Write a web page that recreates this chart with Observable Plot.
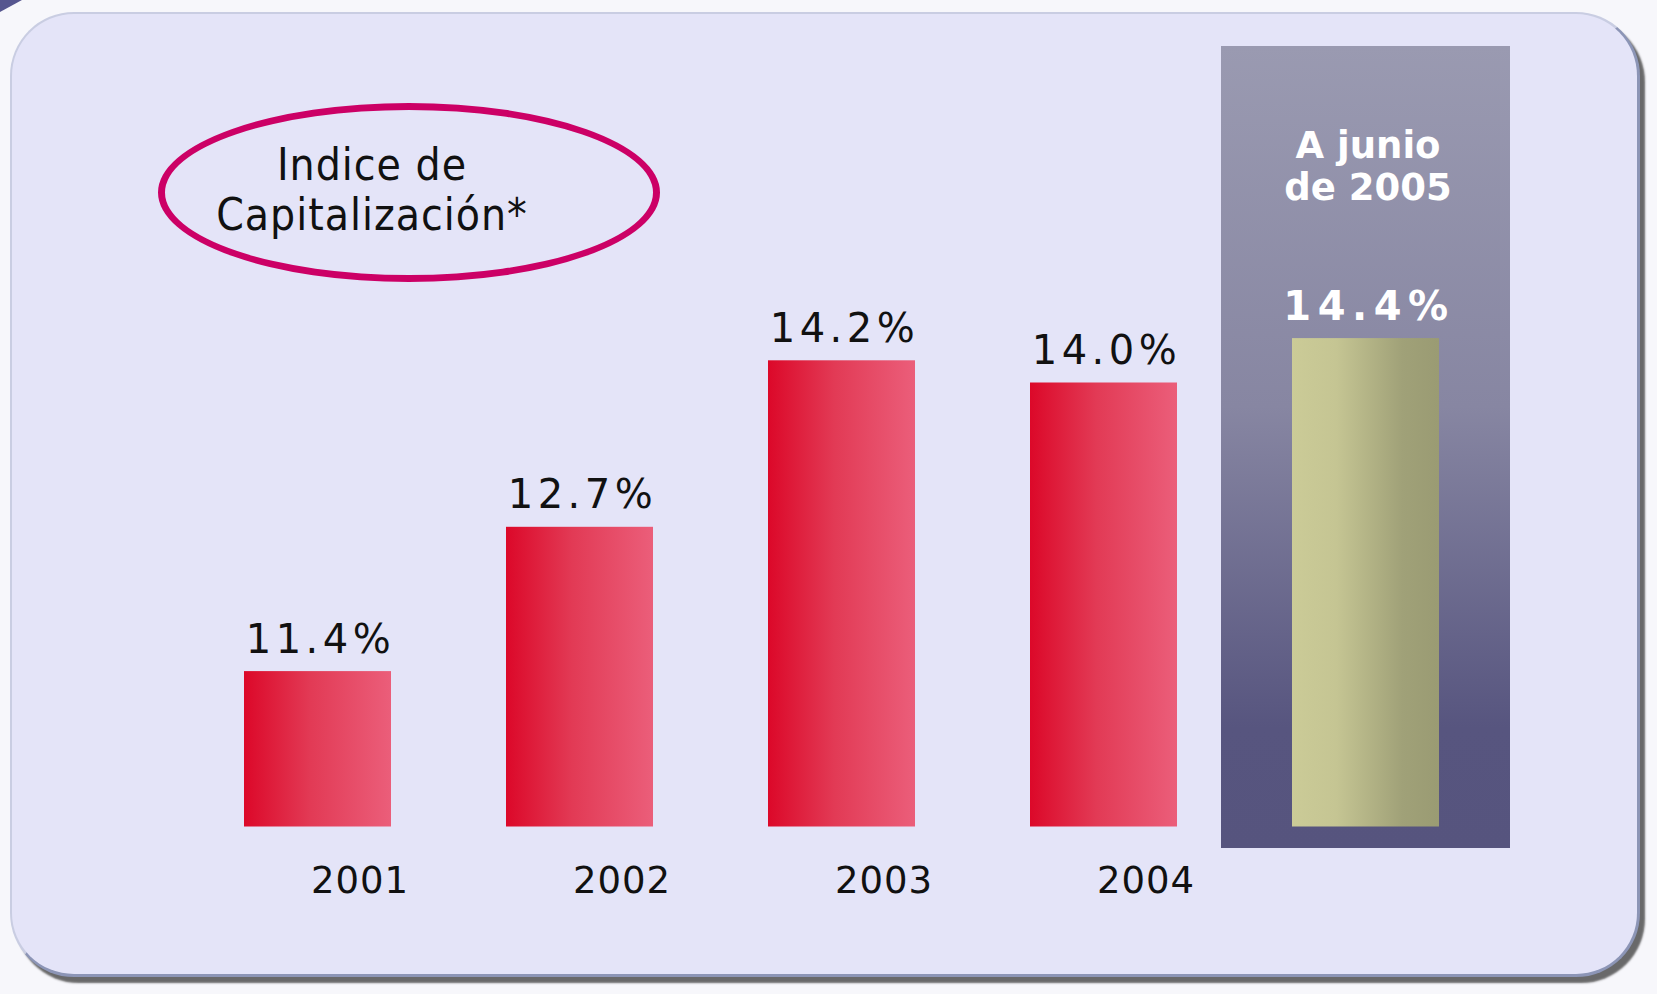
<!DOCTYPE html>
<html>
<head>
<meta charset="utf-8">
<script src="https://cdn.jsdelivr.net/npm/d3@7"></script>
<script src="https://cdn.jsdelivr.net/npm/@observablehq/plot@0.6"></script>
<style>
  html, body { margin: 0; padding: 0; background: #F7F7FB; width: 1657px; height: 994px; overflow: hidden; }
  #wrap { position: relative; width: 1657px; height: 994px; }
  #card {
    position: absolute; left: 10px; top: 12px; width: 1630px; height: 965px;
    box-sizing: border-box; border-radius: 64px; background: #E4E4F8;
    border: 2px solid #C9CDE2; border-right: 3px solid #8C95B6; border-bottom: 3px solid #8C95B6;
    box-shadow: 5px 6px 2px rgba(80,80,80,0.85);
  }
  #corner { position: absolute; left: 0; top: 0; width: 22px; height: 12px; background: #56568F; clip-path: polygon(0 0, 100% 0, 0 100%); }
  #ellipse {
    position: absolute; left: 158px; top: 103px; width: 502px; height: 179px; box-sizing: border-box;
    border: 7px solid #CC0066; border-radius: 50%;
  }
  #title {
    position: absolute; left: 172px; top: 140px; width: 400px; text-align: center;
    font-family: "DejaVu Sans Condensed", "DejaVu Sans", sans-serif; font-stretch: condensed;
    font-size: 44px; line-height: 50px; color: #111; letter-spacing: 1px;
  }
  #chart { position: absolute; left: 0; top: 0; }
</style>
</head>
<body>
<div id="wrap">
  <div id="corner"></div>
  <div id="card"></div>
  <div id="ellipse"></div>
  <div id="title">Indice de<br>Capitalización*</div>
  <div id="chart"></div>
</div>
<script>
const years = ["2001", "2002", "2003", "2004", "2005"];
const values = [11.4, 12.7, 14.2, 14.0, 14.4];
const highlightYear = "2005";
const highlightLabel = "A junio\nde 2005";
const baseline = 10;
const yDomain = [10, 15];

const data = years.map((year, i) => ({year, value: values[i]}));
const past = data.filter(d => d.year !== highlightYear);
const current = data.filter(d => d.year === highlightYear);
const fmt = d => d.value.toFixed(1) + "%";

const defs = () => {
  const g = d3.create("svg:defs");
  const red = g.append("linearGradient").attr("id", "gRed").attr("x1", 0).attr("x2", 1).attr("y1", 0).attr("y2", 0);
  [["0%", "#DC0829"], ["45%", "#E23A55"], ["100%", "#EB5E7A"]].forEach(([o, c]) => red.append("stop").attr("offset", o).attr("stop-color", c));
  const kh = g.append("linearGradient").attr("id", "gKhaki").attr("x1", 0).attr("x2", 1).attr("y1", 0).attr("y2", 0);
  [["0%", "#CBCB97"], ["30%", "#C5C593"], ["75%", "#A0A178"], ["100%", "#9A9B73"]].forEach(([o, c]) => kh.append("stop").attr("offset", o).attr("stop-color", c));
  const pn = g.append("linearGradient").attr("id", "gPanel").attr("x1", 0).attr("x2", 0).attr("y1", 0).attr("y2", 1);
  [["0%", "#9A9AB1"], ["45%", "#8786A2"], ["85%", "#57557F"], ["100%", "#56547E"]].forEach(([o, c]) => pn.append("stop").attr("offset", o).attr("stop-color", c));
  return g.node();
};

const font = "DejaVu Sans, Verdana, sans-serif";

const chart = Plot.plot({
  width: 1657,
  height: 994,
  marginTop: 271.5,
  marginBottom: 167.5,
  marginLeft: 128.7,
  marginRight: 103,
  style: {background: "transparent", overflow: "visible"},
  x: {type: "band", domain: years, padding: 0.44, axis: null},
  y: {domain: yDomain, axis: null},
  marks: [
    defs,
    Plot.cell(current, {x: "year", fill: "url(#gPanel)", insetLeft: -71, insetRight: -71, insetTop: -225.5, insetBottom: -21.5}),
    Plot.barY(past, {x: "year", y1: () => baseline, y2: "value", fill: "url(#gRed)"}),
    Plot.barY(current, {x: "year", y1: () => baseline, y2: "value", fill: "url(#gKhaki)"}),
    Plot.text(past, {x: "year", y: "value", text: fmt, dy: -19, dx: 2.5, lineAnchor: "bottom", fontSize: 40, fill: "#111", fontFamily: font}),
    Plot.text(current, {x: "year", y: "value", text: fmt, dy: -19, dx: 3, lineAnchor: "bottom", fontSize: 40, fontWeight: "bold", fill: "white", fontFamily: font}),
    Plot.text(past, {x: "year", text: "year", frameAnchor: "bottom", dy: 65.5, dx: 42, lineAnchor: "bottom", fontSize: 37, fill: "#111", fontFamily: font}),
    Plot.text(current, {x: "year", text: () => highlightLabel, frameAnchor: "top", dy: -72.5, dx: 2, lineAnchor: "bottom", lineHeight: 1.135, fontSize: 37, fontWeight: "bold", fill: "white", fontFamily: font})
  ]
});
// letter spacing for value labels (styling only)
d3.select(chart).selectAll("text").each(function() {
  const t = this.textContent;
  const bold = (this.getAttribute("font-weight") || (this.parentNode && this.parentNode.getAttribute("font-weight"))) === "bold";
  if (/%$/.test(t)) {
    const ls = bold ? 6.5 : 4.5;
    this.style.letterSpacing = ls + "px";
  } else if (/^\d{4}$/.test(t)) {
    this.style.letterSpacing = "1px";
  }
});
document.getElementById("chart").appendChild(chart);
</script>
</body>
</html>
